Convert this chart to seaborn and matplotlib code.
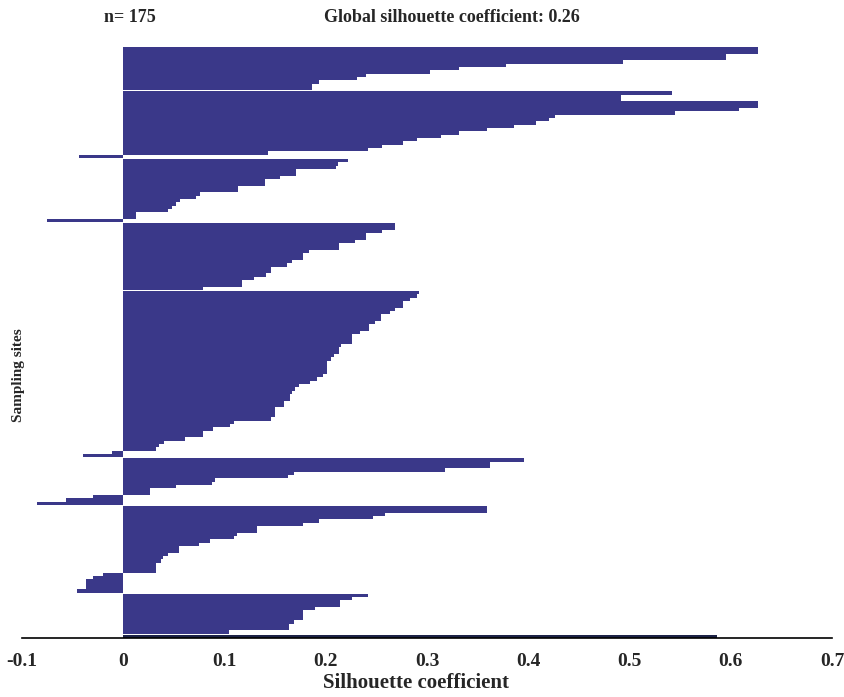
import numpy as np
import pandas as pd
import seaborn as sns
import matplotlib.pyplot as plt

# Silhouette values per cluster (top to bottom)
cluster_1 = [0.627, 0.627, 0.595, 0.595, 0.494, 0.378, 0.332, 0.303, 0.240, 0.231, 0.193, 0.186, 0.186]
cluster_2 = [0.542, 0.492, 0.492, 0.627, 0.627, 0.608, 0.545, 0.426, 0.420, 0.408, 0.386, 0.359,
             0.332, 0.314, 0.290, 0.276, 0.256, 0.242, 0.143, -0.044]
cluster_3 = [0.222, 0.212, 0.210, 0.171, 0.171, 0.155, 0.140, 0.140, 0.113, 0.113, 0.076, 0.072,
             0.056, 0.052, 0.048, 0.044, 0.013, 0.013, -0.075]
cluster_4 = [0.268, 0.268, 0.256, 0.240, 0.240, 0.229, 0.213, 0.213, 0.183, 0.178, 0.178, 0.167,
             0.162, 0.146, 0.146, 0.141, 0.129, 0.117, 0.117, 0.079]
cluster_5 = [0.292, 0.290, 0.283, 0.276, 0.276, 0.268, 0.263, 0.255, 0.255, 0.249, 0.243, 0.243,
             0.234, 0.226, 0.226, 0.226, 0.215, 0.213, 0.213, 0.208, 0.205, 0.201, 0.201, 0.201,
             0.201, 0.197, 0.191, 0.184, 0.174, 0.170, 0.167, 0.165, 0.165, 0.159, 0.159, 0.150,
             0.150, 0.150, 0.146, 0.109, 0.105, 0.089, 0.079, 0.079, 0.061, 0.040, 0.035, 0.032,
             -0.011, -0.040]
cluster_6 = [0.396, 0.362, 0.362, 0.318, 0.169, 0.163, 0.091, 0.088, 0.052, 0.026, 0.026,
             -0.030, -0.057, -0.085]
cluster_7 = [0.359, 0.359, 0.259, 0.247, 0.193, 0.178, 0.132, 0.132, 0.112, 0.109, 0.086, 0.075,
             0.055, 0.055, 0.044, 0.039, 0.037, 0.032, 0.032, 0.032,
             -0.020, -0.030, -0.037, -0.037, -0.037, -0.046]
cluster_8 = [0.242, 0.226, 0.214, 0.214, 0.189, 0.178, 0.178, 0.178, 0.169, 0.164, 0.164, 0.104]
cluster_9 = [0.586]

clusters = [cluster_1, cluster_2, cluster_3, cluster_4, cluster_5,
            cluster_6, cluster_7, cluster_8, cluster_9]
n_sites = 175
global_coef = 0.26

# build a long table with a small gap between clusters
rows = []
pos = 0.0
for k, vals in enumerate(clusters):
    for v in vals:
        rows.append({"pos": pos, "value": v, "group": "last" if k == len(clusters) - 1 else "main"})
        pos += 1
    pos += 0.3
df = pd.DataFrame(rows)

sns.set_style("white")
plt.rcParams["font.family"] = ["Liberation Serif", "DejaVu Serif"]

fig = plt.figure(figsize=(8.44, 6.97), dpi=100)
ax = fig.add_axes([22 / 844, 59 / 697, 810 / 844, 591 / 697])

sns.barplot(data=df, x="value", y="pos", orient="h", native_scale=True,
            hue="group", palette={"main": "#3a3889", "last": "#1c2246"},
            width=1.0, dodge=False, legend=False, errorbar=None,
            linewidth=0, saturation=1, ax=ax)

ax.set_xlim(-0.1, 0.7)
ax.set_ylim(df["pos"].max() + 0.5, -0.5)
ax.set_xticks(np.arange(-0.1, 0.71, 0.1))
ax.set_xticklabels(["-0.1", "0", "0.1", "0.2", "0.3", "0.4", "0.5", "0.6", "0.7"],
                   fontsize=14, fontweight="bold")
ax.set_yticks([])
for s in ["top", "right", "left"]:
    ax.spines[s].set_visible(False)
ax.spines["bottom"].set_color("black")
ax.spines["bottom"].set_linewidth(1.2)
ax.tick_params(axis="x", direction="out", length=5, width=1.2, color="black", pad=6)

ax.set_xlabel("Silhouette coefficient", fontsize=15, fontweight="bold")
ax.xaxis.set_label_coords((416 - 22) / 810, -0.06)
ax.set_ylabel("Sampling sites", fontsize=11, fontweight="bold")
ax.yaxis.set_label_coords((25 - 22) / 810, (638 - 375) / 591)

fig.text(452 / 844, 1 - 18 / 697, f"Global silhouette coefficient: {global_coef}",
         ha="center", va="center", fontsize=13, fontweight="bold")
fig.text(104 / 844, 1 - 18 / 697, f"n= {n_sites}",
         ha="left", va="center", fontsize=13, fontweight="bold")

plt.savefig("out.png", dpi=100)
plt.close()
